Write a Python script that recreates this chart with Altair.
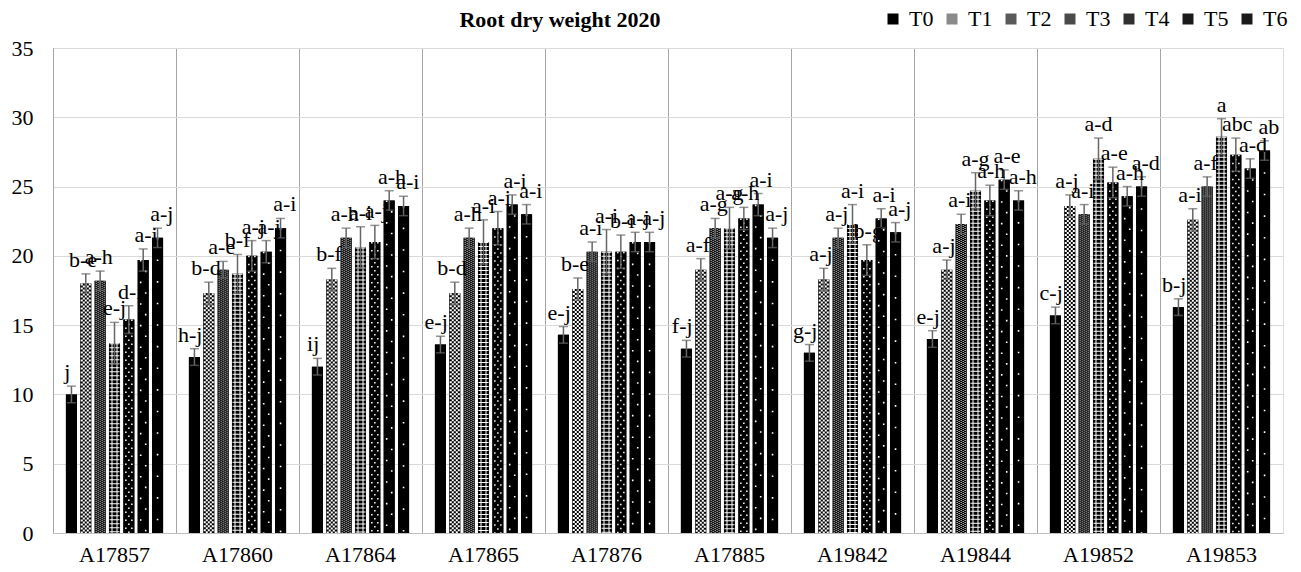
import altair as alt
import pandas as pd

genotypes = ["A17857", "A17860", "A17864", "A17865", "A17876",
             "A17885", "A19842", "A19844", "A19852", "A19853"]
treatments = ["T0", "T1", "T2", "T3", "T4", "T5", "T6"]

# mean root dry weight per treatment, one value per genotype (same order)
T0_val = [10.0, 12.7, 12.0, 13.6, 14.3, 13.3, 13.0, 14.0, 15.7, 16.3]
T1_val = [18.0, 17.3, 18.3, 17.3, 17.6, 19.0, 18.3, 19.0, 23.6, 22.6]
T2_val = [18.2, 19.0, 21.3, 21.3, 20.3, 22.0, 21.3, 22.3, 23.0, 25.0]
T3_val = [13.7, 18.7, 20.6, 21.0, 20.3, 22.0, 22.3, 24.7, 27.0, 28.6]
T4_val = [15.4, 20.0, 21.0, 22.0, 20.3, 22.7, 19.7, 24.0, 25.3, 27.3]
T5_val = [19.7, 20.3, 24.0, 23.7, 21.0, 23.7, 22.7, 25.5, 24.3, 26.3]
T6_val = [21.3, 22.0, 23.6, 23.0, 21.0, 21.3, 21.7, 24.0, 25.0, 27.6]

# standard errors
T0_err = [0.6, 0.6, 0.6, 0.6, 0.6, 0.6, 0.6, 0.6, 0.6, 0.6]
T1_err = [0.7, 0.8, 0.8, 0.8, 0.8, 0.8, 0.8, 0.7, 0.8, 0.8]
T2_err = [0.7, 0.6, 0.7, 0.7, 0.7, 0.7, 0.7, 0.7, 0.7, 0.7]
T3_err = [1.5, 1.4, 1.5, 1.6, 1.6, 1.5, 1.4, 1.3, 1.5, 1.3]
T4_err = [1.0, 1.1, 1.2, 1.2, 1.2, 0.8, 1.1, 1.1, 1.1, 1.2]
T5_err = [0.8, 0.8, 0.7, 0.7, 0.7, 0.8, 0.7, 0.7, 0.7, 0.7]
T6_err = [0.7, 0.7, 0.7, 0.7, 0.7, 0.7, 0.7, 0.7, 0.7, 0.7]

# significance letters
T0_lab = ["j", "h-j", "ij", "e-j", "e-j", "f-j", "g-j", "e-j", "c-j", "b-j"]
T1_lab = ["b-e", "b-d", "b-f", "b-d", "b-e", "a-f", "a-j", "a-j", "a-j", "a-i"]
T2_lab = ["a-h", "a-e", "a-h", "a-h", "a-i", "a-g", "a-j", "a-i", "a-i", "a-f"]
T3_lab = ["e-j", "b-f", "a-i", "a-i", "a-i", "a-g", "a-i", "a-g", "a-d", "a"]
T4_lab = ["d-i", "a-j", "a-j", "a-i", "b-i", "a-h", "b-g", "a-h", "a-e", "abc"]
T5_lab = ["a-i", "a-j", "a-h", "a-i", "a-j", "a-i", "a-i", "a-e", "a-h", "a-d"]
T6_lab = ["a-j", "a-i", "a-i", "a-i", "a-j", "a-j", "a-j", "a-h", "a-d", "ab"]

vals = [T0_val, T1_val, T2_val, T3_val, T4_val, T5_val, T6_val]
errs = [T0_err, T1_err, T2_err, T3_err, T4_err, T5_err, T6_err]
labs = [T0_lab, T1_lab, T2_lab, T3_lab, T4_lab, T5_lab, T6_lab]

rows = []
for ti, t in enumerate(treatments):
    for gi, g in enumerate(genotypes):
        rows.append({"geno": g, "trt": t, "val": vals[ti][gi],
                     "err": errs[ti][gi], "lab": labs[ti][gi]})
df = pd.DataFrame(rows)

FONT = "Liberation Serif"
SEP = "#a6a6a6"
GRID = "#d9d9d9"
ERR = "#666666"

PLOT_W = 1230
PLOT_H = 485
BAND = PLOT_W / len(genotypes)

xscale = alt.Scale(domain=genotypes, paddingInner=0, paddingOuter=0)
yscale = alt.Scale(domain=[0, 35], nice=False, zero=True)

X_main = alt.X("geno:N", scale=xscale, sort=genotypes, title=None,
               axis=alt.Axis(labelAngle=0, labelFont=FONT, labelFontSize=22,
                             labelColor="#000000", labelPadding=11, ticks=False,
                             domainColor="#bfbfbf", grid=True, gridColor=SEP,
                             gridWidth=1, bandPosition=0))


def XO(dx=0):
    sc = dict(domain=treatments, paddingInner=0.23, paddingOuter=0.9)
    if dx != 0:
        sc["range"] = [dx, BAND + dx]
    return alt.XOffset("trt:N", scale=alt.Scale(**sc), sort=treatments)


Y_axis = alt.Axis(orient="left", values=[0, 5, 10, 15, 20, 25, 30, 35],
                  labelFont=FONT, labelFontSize=22, labelColor="#000000",
                  labelPadding=20, ticks=False, domainColor=SEP,
                  gridColor=GRID, gridWidth=1.2, title=None)


def Y(field):
    return alt.Y(field, scale=yscale, title=None, axis=Y_axis)


base = alt.Chart(df).transform_calculate(
    hi="datum.val + datum.err", lo="datum.val - datum.err")

legend_colors = ["#000000", "#8a8a8a", "#5a5a5a", "#4a4a4a", "#303030", "#1a1a1a", "#1a1a1a"]

bars = base.mark_bar().encode(
    x=X_main, xOffset=XO(), y=Y("val:Q"),
    fill=alt.Fill("trt:N", scale=alt.Scale(domain=treatments, range=legend_colors),
                  legend=alt.Legend(title=None, orient="none", direction="horizontal",
                                    columns=7, legendX=829, legendY=-40,
                                    symbolType="square", symbolSize=121,
                                    symbolStrokeWidth=0,
                                    labelFont=FONT, labelFontSize=22,
                                    labelColor="#000000", labelOffset=5,
                                    columnPadding=7)),
)

black = base.mark_bar(color="#000000").encode(x=X_main, xOffset=XO(), y=Y("val:Q"))


def stripe(t, dx, w, dash=None, off=0):
    kw = dict(color="white", strokeWidth=w, strokeCap="butt")
    if dash is not None:
        kw["strokeDash"] = dash
        kw["strokeDashOffset"] = off
    return base.transform_filter(alt.datum.trt == t).mark_rule(**kw).encode(
        x=X_main, xOffset=XO(dx), y=Y("val:Q"), y2=alt.datum(0))


patterns = []
# T1: light checker
for i, dx in enumerate([-4, -2, 0, 2, 4]):
    patterns.append(stripe("T1", dx, 2, [2, 2], 0 if i % 2 == 0 else 2))
# T2: dark checker
for i, dx in enumerate([-4, -2, 0, 2, 4]):
    patterns.append(stripe("T2", dx, 1, [1, 1], 0 if i % 2 == 0 else 1))
# T3: grid
for dx in [-2.5, 2.5]:
    patterns.append(stripe("T3", dx, 1))
patterns.append(stripe("T3", 0, 10, [1, 3], 0))
# T4: dense dots
for i, dx in enumerate([-3, 0, 3]):
    patterns.append(stripe("T4", dx, 1.5, [1.5, 6.5], 0 if i % 2 == 0 else 4))
# T5: two columns of sparse dots
patterns.append(stripe("T5", -2.5, 1.6, [1.6, 20], 0))
patterns.append(stripe("T5", 2.5, 1.6, [1.6, 20], 11))
# T6: one column of sparse dots
patterns.append(stripe("T6", 0, 1.6, [1.6, 20], 0))

err_rule = base.mark_rule(color=ERR, strokeWidth=1.5).encode(
    x=X_main, xOffset=XO(), y=Y("lo:Q"), y2="hi:Q")
cap_hi = base.mark_tick(color=ERR, size=9, thickness=1.5).encode(
    x=X_main, xOffset=XO(), y=Y("hi:Q"))
cap_lo = base.mark_tick(color=ERR, size=9, thickness=1.5).encode(
    x=X_main, xOffset=XO(), y=Y("lo:Q"))

labels = base.mark_text(font=FONT, fontSize=22, color="#000000",
                        baseline="alphabetic", dy=-7).encode(
    x=X_main, xOffset=XO(), y=Y("hi:Q"), text="lab:N")

chart = alt.layer(bars, black, *patterns, err_rule, cap_hi, cap_lo, labels).resolve_scale(
    xOffset="independent"
).properties(
    width=PLOT_W, height=PLOT_H,
    title=alt.Title("Root dry weight 2020", font=FONT, fontSize=22, fontWeight="bold",
                    color="#000000", anchor="middle", dx=-108, dy=24, offset=0, frame="group"),
    autosize=alt.AutoSizeParams(type="none"),
    padding={"left": 53, "top": 48, "right": 18, "bottom": 39},
).configure_view(stroke=SEP, strokeWidth=1).configure(font=FONT)

chart.save("out.html", embed_options={"renderer": "svg", "actions": False})
